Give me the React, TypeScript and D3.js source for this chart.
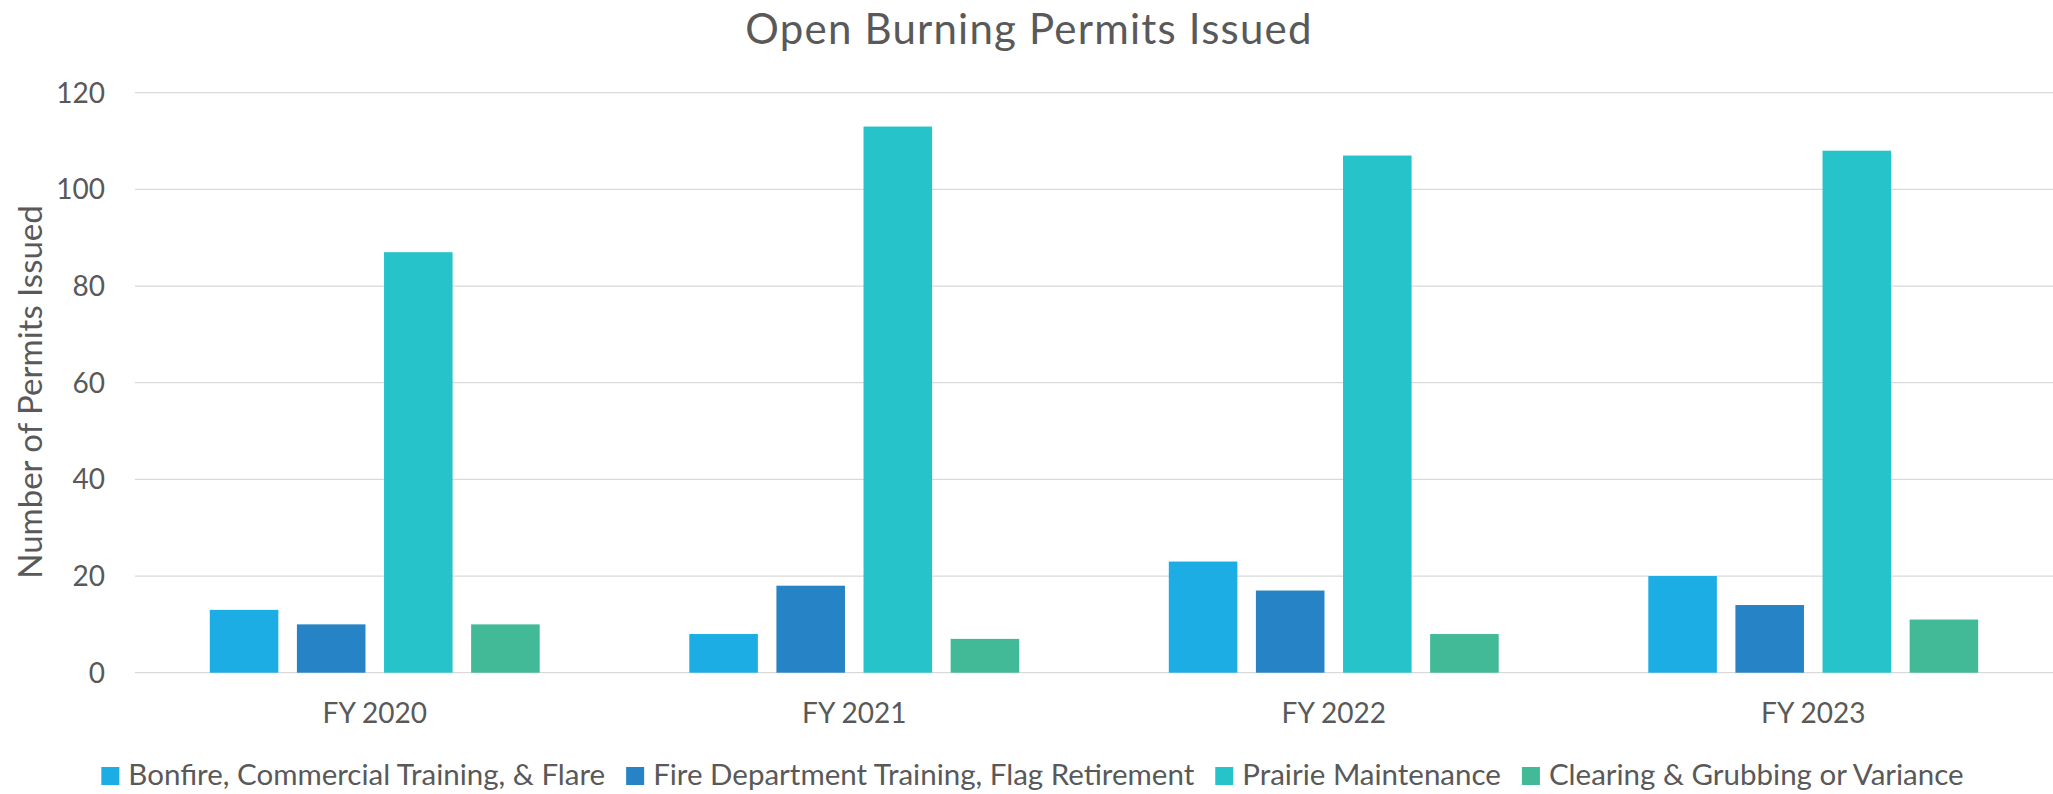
import React, { useEffect, useRef } from 'react';
import * as d3 from 'd3';

// categories and series
const years = ['FY 2020', 'FY 2021', 'FY 2022', 'FY 2023'];
const seriesNames = [
  'Bonfire, Commercial Training, & Flare',
  'Fire Department Training, Flag Retirement',
  'Prairie Maintenance',
  'Clearing & Grubbing or Variance',
];
const bonfire = [13, 8, 23, 20];
const fireDept = [10, 18, 17, 14];
const prairie = [87, 113, 107, 108];
const clearing = [10, 7, 8, 11];
const yTicks = [0, 20, 40, 60, 80, 100, 120];
const colors = ['#1CADE4', '#2683C6', '#27C3CB', '#42BA97'];

const App = () => {
  const ref = useRef<SVGSVGElement>(null);

  useEffect(() => {
    const svg = d3.select(ref.current);
    svg.selectAll('*').remove();

    const W = 2053;
    const H = 794;
    const font = 'Lato, sans-serif';
    const textColor = '#595959';

    const left = 135, right = 2053, top = 92.7, bottom = 672.7;

    const values = [bonfire, fireDept, prairie, clearing];

    const x0 = d3.scaleBand().domain(years).range([left, right]).padding(0);
    const groupPad = x0.bandwidth() * 0.156;
    const x1 = d3.scaleBand<number>()
      .domain(d3.range(seriesNames.length))
      .range([groupPad, x0.bandwidth() - groupPad])
      .paddingInner(0.213)
      .paddingOuter(0);

    const y = d3.scaleLinear().domain([0, 120]).range([bottom, top]);

    svg.append('rect').attr('width', W).attr('height', H).attr('fill', '#fff');

    // title
    svg.append('text')
      .attr('x', 1029)
      .attr('y', 44)
      .attr('text-anchor', 'middle')
      .attr('font-family', font)
      .attr('font-size', 42)
      .attr('letter-spacing', 1.2)
      .attr('fill', textColor)
      .text('Open Burning Permits Issued');

    // grid lines
    svg.append('g')
      .selectAll('line')
      .data(yTicks)
      .join('line')
      .attr('x1', left)
      .attr('x2', right)
      .attr('y1', d => y(d))
      .attr('y2', d => y(d))
      .attr('stroke', '#D9D9D9')
      .attr('stroke-width', 1.3);

    // y tick labels
    svg.append('g')
      .attr('font-family', font)
      .attr('font-size', 28)
      .attr('fill', textColor)
      .attr('text-anchor', 'end')
      .selectAll('text')
      .data(yTicks)
      .join('text')
      .attr('x', 105)
      .attr('y', d => y(d))
      .attr('dy', '0.36em')
      .text(d => d);

    // y axis title
    svg.append('text')
      .attr('transform', `translate(42, 392) rotate(-90)`)
      .attr('text-anchor', 'middle')
      .attr('font-family', font)
      .attr('font-size', 33)
      .attr('fill', textColor)
      .text('Number of Permits Issued');

    // bars
    const groups = svg.append('g')
      .selectAll('g')
      .data(years)
      .join('g')
      .attr('transform', d => `translate(${x0(d)},0)`);

    groups.selectAll('rect')
      .data((_, i) => values.map((s, k) => ({ k, v: s[i] })))
      .join('rect')
      .attr('x', d => x1(d.k)!)
      .attr('width', x1.bandwidth())
      .attr('y', d => y(d.v))
      .attr('height', d => y(0) - y(d.v))
      .attr('fill', d => colors[d.k]);

    // x labels
    svg.append('g')
      .attr('font-family', font)
      .attr('font-size', 28)
      .attr('fill', textColor)
      .attr('text-anchor', 'middle')
      .selectAll('text')
      .data(years)
      .join('text')
      .attr('x', d => x0(d)! + x0.bandwidth() / 2)
      .attr('y', 723)
      .text(d => d);

    // legend
    const legend = svg.append('g');
    const items = legend.selectAll('g')
      .data(seriesNames)
      .join('g');
    items.append('rect')
      .attr('width', 18)
      .attr('height', 18)
      .attr('y', 767)
      .attr('fill', (_, i) => colors[i]);
    items.append('text')
      .attr('x', 27)
      .attr('y', 785)
      .attr('font-family', font)
      .attr('font-size', 29.5)
      .attr('fill', textColor)
      .text(d => d);

    const widths: number[] = [];
    items.select('text').each(function () {
      widths.push((this as SVGTextElement).getComputedTextLength());
    });
    const itemW = widths.map(w => 27 + w);
    const gap = 21;
    const total = d3.sum(itemW) + gap * (itemW.length - 1);
    let cx = 1032.5 - total / 2;
    items.attr('transform', (_, i) => {
      const t = `translate(${cx},0)`;
      cx += itemW[i] + gap;
      return t;
    });
  }, []);

  return (
    <svg
      ref={ref}
      width={2053}
      height={794}
      style={{ position: 'absolute', left: 0, top: 0 }}
    />
  );
};

export default App;
